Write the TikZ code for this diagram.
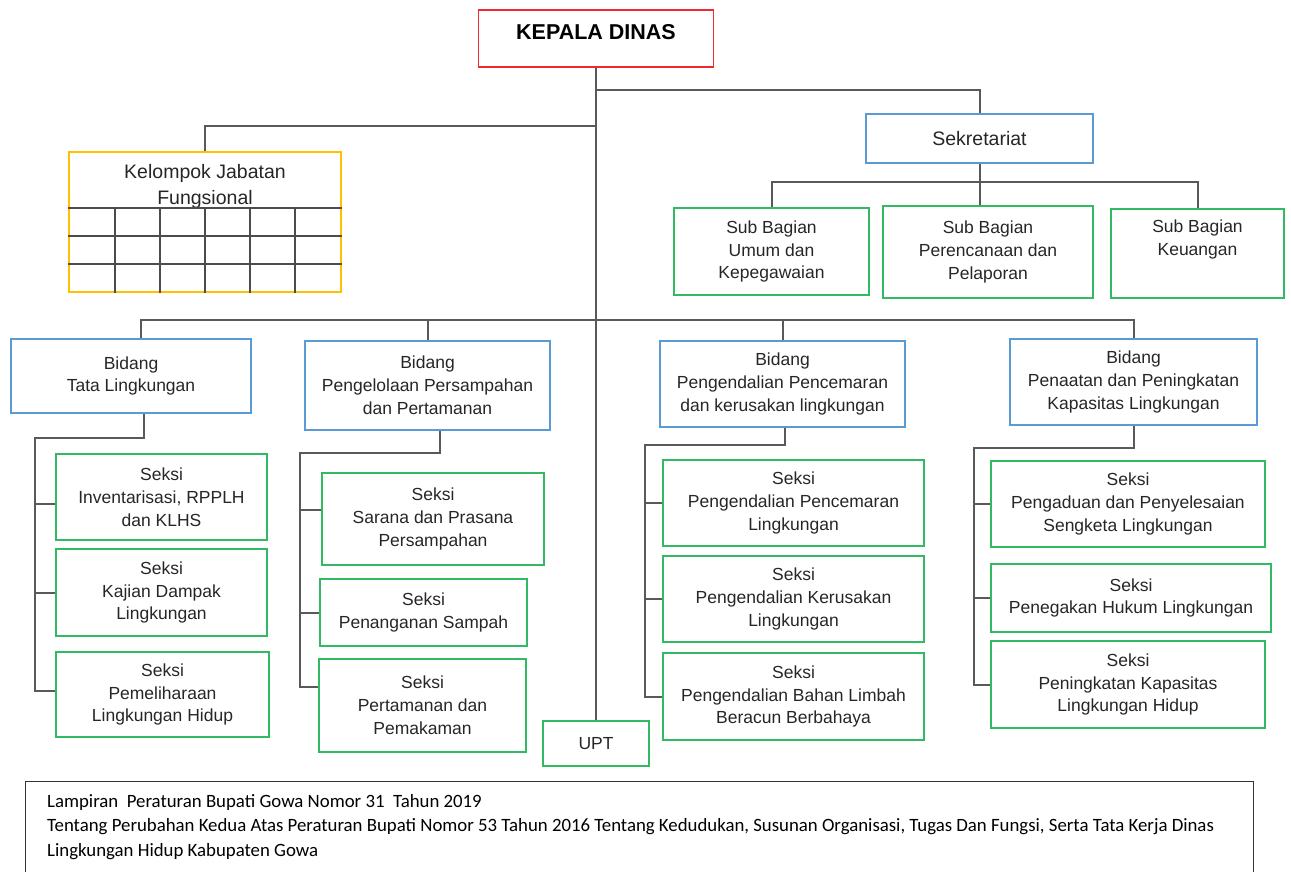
\documentclass[tikz,border=0pt]{standalone}
\usepackage{fontspec}
\setmainfont{Liberation Sans}
\newfontfamily\notefont{Carlito}

\definecolor{kadisred}{HTML}{EE2A2E}
\definecolor{bidblue}{HTML}{5B9BD5}
\definecolor{seksigreen}{HTML}{33B864}
\definecolor{kjfyellow}{HTML}{FFC000}
\definecolor{conngray}{HTML}{595959}
\definecolor{txtgray}{HTML}{262626}

\begin{document}
\begin{tikzpicture}[x=1pt,y=-1pt,
    txt/.style={inner sep=0pt,align=center,text=txtgray,font=\fontsize{17.5}{22.8}\selectfont},
    bigtxt/.style={font=\fontsize{19.5}{26}\selectfont},
    box/.style={txt,draw,line width=1.5pt},
    kepala/.style={box,draw=kadisred},
    bidang/.style={box,draw=bidblue},
    seksi/.style={box,draw=seksigreen},
    fungsional/.style={box,draw=kjfyellow},
    conn/.style={draw=conngray,line width=2pt},
    grid/.style={draw=conngray!85!black,line width=2pt},
  ]
  \useasboundingbox (0,0) rectangle (1291,871);
  \clip (0,0) rectangle (1291,871);

  % top
  \node[kepala,minimum width=235pt,minimum height=57pt] (kadis) at (596,38.5) {};
  \node[txt,font=\fontsize{21.5}{26}\selectfont\bfseries,text=black] (kadis-t) at (596,32) {KEPALA DINAS};

  \node[bidang,bigtxt,minimum width=227pt,minimum height=49pt] (sek) at (979.5,138.5) {Sekretariat};

  \node[seksi,minimum width=195pt,minimum height=87pt] (sub1) at (771.5,251.5) {Sub Bagian\\Umum dan\\Kepegawaian};
  \node[seksi,minimum width=210pt,minimum height=92pt] (sub2) at (988,252) {Sub Bagian\\Perencanaan dan\\Pelaporan};
  \node[seksi,minimum width=173pt,minimum height=89pt] (sub3) at (1197.5,253.5) {};
  \node[txt] (sub3-t) at (1197.5,239.5) {Sub Bagian\\Keuangan};

  % kelompok jabatan fungsional
  \node[fungsional,minimum width=272pt,minimum height=140pt] (kjf) at (205,222) {};
  \node[txt,bigtxt] (kjf-t) at (205,186) {Kelompok Jabatan\\Fungsional};
  \foreach \y in {208,236,264}
    \draw[grid] (kjf.west |- 0,\y) -- (kjf.east |- 0,\y);
  \foreach \x in {115,160,205,250,295}
    \draw[grid] (\x,208) -- (\x,0 |- kjf.south);

  % bidang
  \node[bidang,minimum width=240pt,minimum height=74pt] (bid1) at (131,376) {Bidang\\Tata Lingkungan};
  \node[bidang,minimum width=245pt,minimum height=89pt] (bid2) at (427.5,385.5) {Bidang\\Pengelolaan Persampahan\\dan Pertamanan};
  \node[bidang,minimum width=245pt,minimum height=86pt] (bid3) at (782.5,384) {Bidang\\Pengendalian Pencemaran\\dan kerusakan lingkungan};
  \node[bidang,minimum width=247pt,minimum height=86pt] (bid4) at (1133.5,382) {Bidang\\Penaatan dan Peningkatan\\Kapasitas Lingkungan};

  % seksi
  \node[seksi,minimum width=211pt,minimum height=86pt] (s11) at (161.5,497) {Seksi\\Inventarisasi, RPPLH\\dan KLHS};
  \node[seksi,minimum width=211pt,minimum height=87pt] (s12) at (161.5,592.5) {Seksi\\Kajian Dampak\\Lingkungan};
  \node[seksi,minimum width=213pt,minimum height=85pt] (s13) at (162.5,694.5) {Seksi\\Pemeliharaan\\Lingkungan Hidup};

  \node[seksi,minimum width=222pt,minimum height=92pt] (s21) at (433,519) {Seksi\\Sarana dan Prasana\\Persampahan};
  \node[seksi,minimum width=207pt,minimum height=67pt] (s22) at (423.5,612.5) {Seksi\\Penanganan Sampah};
  \node[seksi,minimum width=207pt,minimum height=93pt] (s23) at (422.5,705.5) {Seksi\\Pertamanan dan\\Pemakaman};

  \node[seksi,minimum width=261pt,minimum height=86pt] (s31) at (793.5,503) {Seksi\\Pengendalian Pencemaran\\Lingkungan};
  \node[seksi,minimum width=261pt,minimum height=86pt] (s32) at (793.5,599) {Seksi\\Pengendalian Kerusakan\\Lingkungan};
  \node[seksi,minimum width=261pt,minimum height=87pt] (s33) at (793.5,696.5) {Seksi\\Pengendalian Bahan Limbah\\Beracun Berbahaya};

  \node[seksi,minimum width=274pt,minimum height=86pt] (s41) at (1128,504) {Seksi\\Pengaduan dan Penyelesaian\\Sengketa Lingkungan};
  \node[seksi,minimum width=280pt,minimum height=68pt] (s42) at (1131,598) {Seksi\\Penegakan Hukum Lingkungan};
  \node[seksi,minimum width=274pt,minimum height=87pt] (s43) at (1128,684.5) {Seksi\\Peningkatan Kapasitas\\Lingkungan Hidup};

  \node[seksi,minimum width=106pt,minimum height=45pt] (upt) at (596,743.5) {UPT};

  % garis
  \draw[conn] (kadis) -- (upt);
  \draw[conn] (kadis.south |- 0,90) -| (sek.north);
  \draw[conn] (kadis.south |- 0,126) -| (kjf.north);
  \draw[conn] (sek) -- (sek.south |- sub2.north);
  \draw[conn] (sub1.north) |- (sub3.north |- 0,182) -- (sub3.north);

  \draw[conn] ([xshift=10pt]bid1.north) |- (bid4.north |- 0,320) -- (bid4.north);
  \foreach \b in {bid2,bid3}
    \draw[conn] (\b.north) -- (\b.north |- 0,320);

  \draw[conn] ([xshift=13pt]bid1.south) |- (35,438) |- ([yshift=4pt]s13.west);
  \draw[conn] ([yshift=-7pt]s11.west) -- ++(-21pt,0);
  \draw[conn] (s12.west) -- (s12.west -| 35,0);

  \draw[conn] ([xshift=12pt]bid2.south) |- (300,453) |- ([yshift=19pt]s23.west);
  \draw[conn] ([yshift=9pt]s21.west) -- ++(-22pt,0);
  \draw[conn] (s22.west) -- (s22.west -| 300,0);

  \draw[conn] ([xshift=2pt]bid3.south) |- (645,445) |- (s33.west);
  \foreach \s in {s31,s32}
    \draw[conn] (\s.west) -- (\s.west -| 645,0);

  \draw[conn] (bid4.south) |- (974,448) |- (s43.west);
  \foreach \s in {s41,s42}
    \draw[conn] (\s.west) -- (\s.west -| 974,0);

  % lampiran
  \draw[line width=1pt,draw=black!80] (25,900) |- (1253,781) -- (1253,900);
  \node[anchor=north west,inner sep=0pt,align=left,text=black,font=\notefont\fontsize{18.8}{24.5}\selectfont] (lampiran) at (47,794)
    {Lampiran\ \ Peraturan Bupati Gowa Nomor 31\ \ Tahun 2019\\
     Tentang Perubahan Kedua Atas Peraturan Bupati Nomor 53 Tahun 2016 Tentang Kedudukan, Susunan Organisasi, Tugas Dan Fungsi, Serta Tata Kerja Dinas\\
     Lingkungan Hidup Kabupaten Gowa};
\end{tikzpicture}
\end{document}
